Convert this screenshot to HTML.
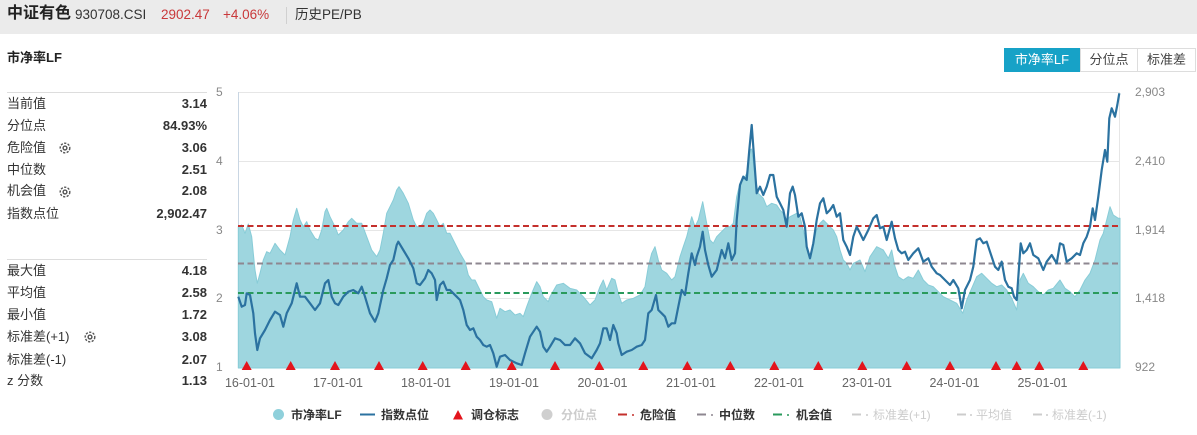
<!DOCTYPE html>
<html><head><meta charset="utf-8">
<style>
*{margin:0;padding:0;box-sizing:border-box}
body{width:1197px;height:435px;background:#fff;position:relative;overflow:hidden;font-family:"Liberation Sans","Noto Sans CJK SC",sans-serif;color:#333}
.hdr{position:absolute;left:0;top:0;width:1197px;height:34px;background:#ebebeb}
.a{position:absolute;white-space:nowrap}
.row{position:absolute;left:7px;width:200px;height:20px;line-height:20px;font-size:13px}
.row .l{position:absolute;left:0;top:0;color:#333}
.row .v{position:absolute;right:0;top:0;font-weight:bold;color:#333}
.sep{position:absolute;left:7px;width:200px;height:1px;background:#ddd}
.btn{position:absolute;top:48px;height:24px;line-height:22px;font-size:13px;text-align:center;border:1px solid #ddd;color:#444;background:#fff}
</style></head><body>
<div class="hdr"></div>
<div class="a" style="left:7px;top:4px;font-size:16px;font-weight:bold;color:#222;line-height:20px">中证有色</div>
<div class="a" style="left:75px;top:6px;font-size:13.5px;color:#333;line-height:18px">930708.CSI</div>
<div class="a" style="left:161px;top:6px;font-size:13.5px;color:#c9383a;line-height:18px">2902.47</div>
<div class="a" style="left:223px;top:6px;font-size:13.5px;color:#c9383a;line-height:18px">+4.06%</div>
<div class="a" style="left:286px;top:7px;width:1px;height:17px;background:#d0d0d0"></div>
<div class="a" style="left:295px;top:6px;font-size:13.5px;color:#333;line-height:18px">历史PE/PB</div>

<div class="a" style="left:7px;top:49px;font-size:13px;font-weight:bold;color:#222;line-height:18px">市净率LF</div>

<div class="btn" style="left:1004px;width:76px;background:#17a2c7;border-color:#17a2c7;color:#fff">市净率LF</div>
<div class="btn" style="left:1080px;width:58px">分位点</div>
<div class="btn" style="left:1137px;width:59px">标准差</div>

<div class="sep" style="top:92px"></div>
<div class="row" style="top:94px"><span class="l">当前值</span><span class="v">3.14</span></div>
<div class="row" style="top:116px"><span class="l">分位点</span><span class="v">84.93%</span></div>
<div class="row" style="top:138px"><span class="l">危险值</span><span class="v">3.06</span></div>
<div class="row" style="top:160px"><span class="l">中位数</span><span class="v">2.51</span></div>
<div class="row" style="top:181px"><span class="l">机会值</span><span class="v">2.08</span></div>
<div class="row" style="top:204px"><span class="l">指数点位</span><span class="v">2,902.47</span></div>
<div class="sep" style="top:259px"></div>
<div class="row" style="top:261px"><span class="l">最大值</span><span class="v">4.18</span></div>
<div class="row" style="top:283px"><span class="l">平均值</span><span class="v">2.58</span></div>
<div class="row" style="top:305px"><span class="l">最小值</span><span class="v">1.72</span></div>
<div class="row" style="top:327px"><span class="l">标准差(+1)</span><span class="v">3.08</span></div>
<div class="row" style="top:350px"><span class="l">标准差(-1)</span><span class="v">2.07</span></div>
<div class="row" style="top:371px"><span class="l">z 分数</span><span class="v">1.13</span></div>

<svg class="a" style="left:0;top:0" width="1197" height="435" viewBox="0 0 1197 435">
<!-- gear icons -->
<g fill="none" stroke="#555" stroke-width="1.4">
<circle cx="65" cy="148" r="4.8" stroke-dasharray="2.2 1.4"/><circle cx="65" cy="148" r="1.9"/>
<circle cx="65" cy="192" r="4.8" stroke-dasharray="2.2 1.4"/><circle cx="65" cy="192" r="1.9"/>
<circle cx="90" cy="337" r="4.8" stroke-dasharray="2.2 1.4"/><circle cx="90" cy="337" r="1.9"/>
</g>
<!-- grid -->
<g stroke="#e6e6e6" stroke-width="1">
<line x1="238" y1="92.5" x2="1120" y2="92.5"/>
<line x1="238" y1="161.5" x2="1120" y2="161.5"/>
<line x1="238" y1="230.5" x2="1120" y2="230.5"/>
<line x1="238" y1="298.5" x2="1120" y2="298.5"/>
<line x1="238" y1="367.5" x2="1120" y2="367.5"/>
<line x1="1119.5" y1="92" x2="1119.5" y2="368"/>
</g>
<line x1="238.5" y1="92" x2="238.5" y2="368" stroke="#c9d6e3" stroke-width="1"/>
<!-- axis labels -->
<g font-size="12" fill="#888" font-family="Liberation Sans, sans-serif">
<text x="216" y="96">5</text><text x="216" y="165">4</text><text x="216" y="234">3</text><text x="216" y="302">2</text><text x="216" y="371">1</text>
<text x="1135" y="96">2,903</text><text x="1135" y="165">2,410</text><text x="1135" y="234">1,914</text><text x="1135" y="302">1,418</text><text x="1135" y="371">922</text>
</g>
<g font-size="12.5" fill="#666" text-anchor="middle" font-family="Liberation Sans, sans-serif">
<text x="250" y="387">16-01-01</text><text x="338" y="387">17-01-01</text><text x="426" y="387">18-01-01</text><text x="514" y="387">19-01-01</text><text x="602.5" y="387">20-01-01</text><text x="691" y="387">21-01-01</text><text x="779" y="387">22-01-01</text><text x="867" y="387">23-01-01</text><text x="954.5" y="387">24-01-01</text><text x="1042.5" y="387">25-01-01</text>
</g>
<!-- PB area -->
<polygon fill="#9ed6df" stroke="#88ccd7" stroke-width="1" stroke-linejoin="round" points="238.3,368 238.3,226.7 241.7,225 245,233.3 248.3,224 251.7,236.7 253.3,253.3 255,270 257.3,283.3 260,273.3 263.3,260 266.7,251.7 270,253.3 275,243.3 280,250 285,255 290,236.7 293.3,220 296.7,208.3 300,220 303.3,226.7 306.7,221.7 310,230 315,238.3 318.3,240 321.7,230 325,211.7 326.7,208.3 330,216.7 335,226.7 338.3,235 343.3,230 348.3,221.7 351.7,218.3 356.7,223.3 361.7,223.3 366.7,236.7 371.7,250 376.7,256.7 380,250 383.3,233.3 386.7,213.3 390,206.7 393.3,200 396.7,190 399,186.7 403.3,193.3 408.3,203.3 413.3,220 416.7,226.7 420,226.7 423.3,223.3 426.7,213.3 430,210 433.3,213.3 436.7,220 440,226.7 443.3,223.3 446.7,233.3 450,233.3 453.3,240 456.7,246.7 460,253.3 465,261.7 468.3,275 471.7,280 475,280 478.3,286.7 483.3,296.7 486.7,300 491.7,301.7 496.7,318.3 500,308.3 505,311.7 510,310 515,315 520,313.3 523.3,316.7 526.7,306.7 531.7,293.3 536.7,281.7 540,286.7 543.3,296.7 548.3,301.7 550,296.7 556.7,285 563.3,283.3 570,288.3 576.7,290 583.3,296.7 590,305 595,300 600,286.7 603.3,280 606.7,290 611.7,278.3 615,280 618.3,293.3 621.7,303.3 626.7,300 633.3,298.3 640,295 645,286.7 648.3,266.7 651.7,253.3 655,246.7 658.3,260 661.7,270 666.7,273.3 671.7,280 675,276.7 680,256.7 683.3,246.7 686.7,236.7 691.7,216.7 695,226.7 698.3,220 702.7,201.7 706.7,223.3 710,240 713.3,243.3 716.7,236.7 720,233.3 723.3,230 726.7,226.7 730,226.7 733.3,223.3 736.7,196.7 740,183.3 743.3,180 746.7,173.3 750,150 751.7,149 755,176.7 758.3,193.3 763.3,198.3 766.7,206.7 771.7,203.3 776.7,205 780,210 783.3,213.3 786.7,220 790,216.7 796.7,213.3 800,216.7 803.3,230 806.7,246.7 810,256.7 813.3,243.3 816.7,230 820,223.3 823.3,220 826.7,223.3 830,226.7 833.3,230 836.7,236.7 840,250 843.3,260 846.7,263.3 850,270 853.3,263.3 856.7,261.7 860,260 865,271.7 870,256.7 876.7,246.7 883.3,250 888.3,258.3 891.7,250 895,266.7 898.3,276.7 903.3,280 908.3,276.7 913.3,278.3 918.3,270 923.3,280 928.3,285 933.3,286.7 938.3,291.7 943.3,296.7 950,300 956.7,303.3 962.7,313.3 966.7,300 971.7,288.3 976.7,276.7 981.7,273.3 986.7,278.3 991.7,283.3 996.7,286.7 1001.7,285 1006.7,290 1011.7,298.3 1016.7,310 1020,280 1023.3,273.3 1028.3,283.3 1033.3,286.7 1038.3,291.7 1043.3,295 1048.3,290 1053.3,288.3 1060,280 1065,288.3 1070,291.7 1075,296.7 1080,290 1085,280 1090,273.3 1095,260 1100,240 1103.3,233.3 1106.7,220 1110,206.7 1113.3,215 1118.3,218.3 1120,218.3 1120,368"/>
<!-- reference lines -->
<line x1="238" y1="226" x2="1118" y2="226" stroke="#c4302c" stroke-width="2" stroke-dasharray="6 3.5"/>
<line x1="238" y1="263.5" x2="1118" y2="263.5" stroke="#8e8790" stroke-width="2" stroke-dasharray="6 3.5"/>
<line x1="238" y1="293" x2="1118" y2="293" stroke="#2a9a5c" stroke-width="2" stroke-dasharray="6 3.5"/>
<!-- index line -->
<polyline fill="none" stroke="#2b72a0" stroke-width="2.2" stroke-linejoin="round" points="238.3,296.7 241.7,306.7 245,305 246.7,293.3 250,295 253.3,313.3 255,333.3 257.3,350 260,338.3 265,330 270,320 275,311.7 280,315 283.3,326.7 286.7,313.3 291.7,303.3 296.7,283.3 300,296.7 305,296.7 310,303.3 315,310 320,303.3 325,283.3 328.3,280 331.7,296.7 335,303.3 338.3,305 343.3,296.7 348.3,291.7 353.3,290 358.3,293.3 361.7,286.7 365,296.7 370,313.3 375,321.7 378.3,313.3 383.3,290 386.7,278.3 390,265 393.3,260 396.7,245 398.3,241.7 403.3,250 408.3,258.3 413.3,268.3 416.7,283.3 420,285 425,278.3 428.3,270 431.7,273.3 435,280 436.7,300 440,285 443.3,281.7 446.7,290 450,290 453.3,293.3 456.7,296.7 460,300 463.3,310 466.7,325 470,330 473.3,328.3 476.7,336.7 480,340 483.3,345 486.7,346.7 490,345 493.3,353.3 496.7,366.7 500,356.7 505,355 510,360 516.7,363.3 521.7,365 525,353.3 530,336.7 536.7,326.7 540,331.7 543.3,346.7 546.7,351.7 550,346.7 555,338.3 560,340 565,345 570,345 575,338.3 580,343.3 585,353.3 591.7,358.3 596.7,350 600,343.3 603.3,328.3 606.7,328.3 610,340 613.3,325 616.7,333.3 618.3,343.3 621.7,355 626.7,351.7 631.7,350 636.7,346.7 641.7,345 645,340 648.3,313.3 651.7,310 656,295 658.3,310 661.7,313.3 665,316.7 668.3,326.7 671.7,323.3 675,323.3 678.3,306.7 681.7,290 685,295 688.3,273.3 691.7,253.3 695,265 696.7,256.7 700,246.7 702.7,231.7 705,250 708.3,265 711.7,276.7 716.7,270 721.7,250 725,258.3 728.3,243.3 731.7,260 735,253.3 736.7,220 740,185 743.3,176.7 746.7,180 749.3,150 751.7,125 754,156.7 756.7,193.3 760,186.7 763.3,195 766.7,186.7 770,175 773.3,175 776.7,196.7 780,203.3 783.3,210 786.7,226.7 790,193.3 792.7,186.7 795,195 798.3,216.7 801.7,213.3 805,226.7 806.7,246.7 810,258.3 813.3,243.3 816.7,220 820,203.3 823.3,198.3 826.7,213.3 830,210 833.3,205 836.7,216.7 840,213.3 843.3,240 846.7,246.7 850,255 853.3,236.7 856.7,226.7 860,233.3 863.3,240 868.3,230 873.3,218.3 876.7,215 880,228.3 883.3,226.7 886.7,240 891.7,221.7 895,238.3 898.3,250 901.7,253.3 905,251.7 908.3,260 913.3,253.3 918.3,248.3 923.3,261.7 928.3,258.3 931.7,266.7 936.7,273.3 940,275 945,280 950,285 953.3,280 958.3,288.3 961.7,308.3 965,290 970,280 973.3,266.7 976.7,240 980,238.3 983.3,243.3 986.7,241.7 990,251.7 995,266.7 998.3,270 1001.7,261.7 1005,280 1008.3,286.7 1011.7,288.3 1014,296.7 1016.7,300 1020.7,243.3 1023.3,253.3 1026.7,250 1030,243.3 1033.3,255 1038.3,258.3 1043.3,270 1046.7,261.7 1051.7,255 1056.7,263.3 1060,243.3 1063.3,245 1066.7,261.7 1071.7,258.3 1076.7,253.3 1080,255 1083.3,243.3 1086.7,236.7 1090,226.7 1092.7,208.3 1095,220 1098.3,196.7 1101.7,170 1105,150 1107.3,161.7 1109.3,118.3 1111.7,108.3 1115,116.7 1117.3,105 1119.3,93.3"/>
<!-- rebalance markers -->
<g fill="#e3141c">
<polygon points="241.7,370 251.7,370 246.7,361"/><polygon points="285.7,370 295.7,370 290.7,361"/><polygon points="330,370 340,370 335,361"/><polygon points="374,370 384,370 379,361"/><polygon points="417.7,370 427.7,370 422.7,361"/><polygon points="460.7,370 470.7,370 465.7,361"/><polygon points="506.7,370 516.7,370 511.7,361"/><polygon points="550,370 560,370 555,361"/><polygon points="594.3,370 604.3,370 599.3,361"/><polygon points="638.3,370 648.3,370 643.3,361"/><polygon points="682.3,370 692.3,370 687.3,361"/><polygon points="725.3,370 735.3,370 730.3,361"/><polygon points="769.3,370 779.3,370 774.3,361"/><polygon points="813.3,370 823.3,370 818.3,361"/><polygon points="857.3,370 867.3,370 862.3,361"/><polygon points="901.7,370 911.7,370 906.7,361"/><polygon points="945,370 955,370 950,361"/><polygon points="991,370 1001,370 996,361"/><polygon points="1011.7,370 1021.7,370 1016.7,361"/><polygon points="1034.3,370 1044.3,370 1039.3,361"/><polygon points="1078.3,370 1088.3,370 1083.3,361"/>
</g>
<!-- legend -->
<g font-size="12" font-weight="bold" font-family="Liberation Sans, Noto Sans CJK SC, sans-serif">
<circle cx="278.5" cy="414.5" r="5.5" fill="#8fd0db"/>
<text x="291" y="419" fill="#333">市净率LF</text>
<line x1="360" y1="414.5" x2="375" y2="414.5" stroke="#2b72a0" stroke-width="2"/>
<text x="381" y="419" fill="#333">指数点位</text>
<polygon points="453,419.5 463,419.5 458,410" fill="#e3141c"/>
<text x="471" y="419" fill="#333">调仓标志</text>
<circle cx="547" cy="414.5" r="5.5" fill="#cfcfcf"/>
<text x="561" y="419" fill="#ccc">分位点</text>
<line x1="618" y1="414.5" x2="627" y2="414.5" stroke="#c4302c" stroke-width="2"/><circle cx="633" cy="415" r="1" fill="#c4302c"/>
<text x="640" y="419" fill="#333">危险值</text>
<line x1="697" y1="414.5" x2="706" y2="414.5" stroke="#8e8790" stroke-width="2"/><circle cx="712" cy="415" r="1" fill="#8e8790"/>
<text x="719" y="419" fill="#333">中位数</text>
<line x1="773" y1="414.5" x2="782" y2="414.5" stroke="#2a9a5c" stroke-width="2"/><circle cx="788" cy="415" r="1" fill="#2a9a5c"/>
<text x="796" y="419" fill="#333">机会值</text>
<line x1="852" y1="414.5" x2="861" y2="414.5" stroke="#ccc" stroke-width="2"/><circle cx="867" cy="415" r="1" fill="#ccc"/>
<text x="873" y="419" fill="#ccc" font-weight="normal">标准差(+1)</text>
<line x1="957" y1="414.5" x2="966" y2="414.5" stroke="#ccc" stroke-width="2"/><circle cx="971" cy="415" r="1" fill="#ccc"/>
<text x="976" y="419" fill="#ccc" font-weight="normal">平均值</text>
<line x1="1033" y1="414.5" x2="1042" y2="414.5" stroke="#ccc" stroke-width="2"/><circle cx="1047" cy="415" r="1" fill="#ccc"/>
<text x="1052" y="419" fill="#ccc" font-weight="normal">标准差(-1)</text>
</g>
</svg>
</body></html>
